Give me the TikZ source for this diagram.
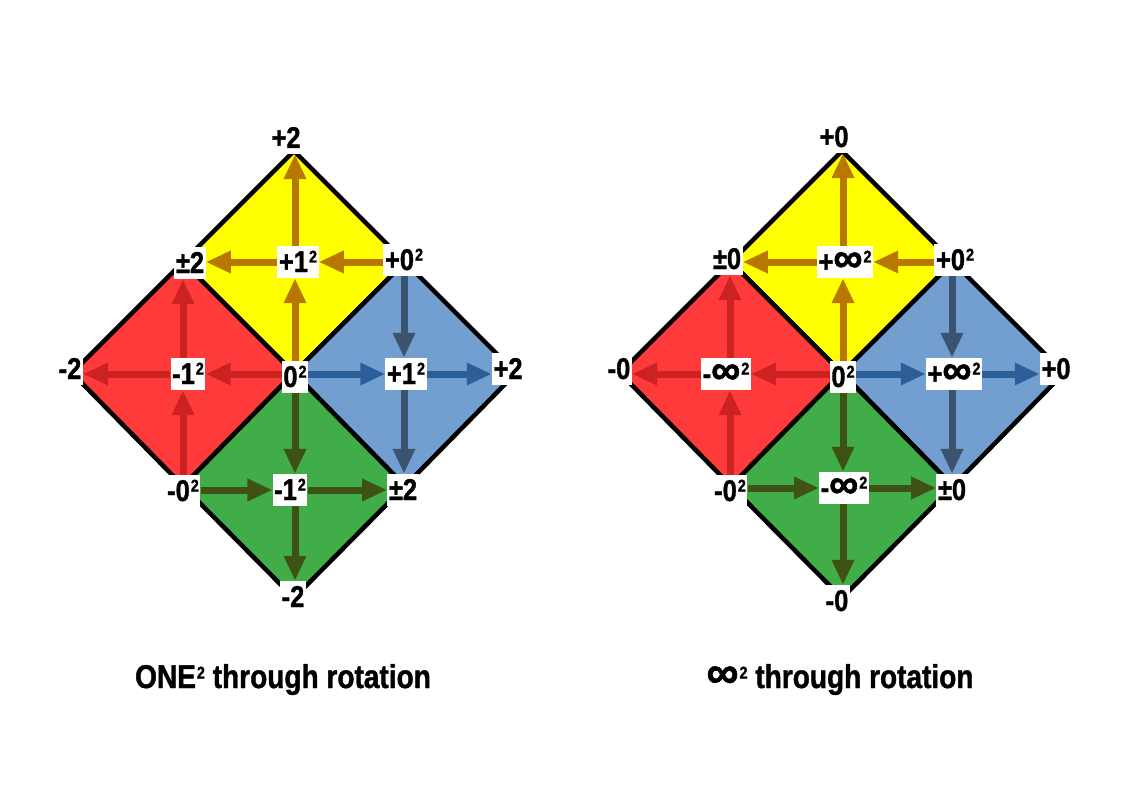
\documentclass[tikz,border=0pt]{standalone}
\usepackage{graphicx}
\usepackage{fontspec}
\setmainfont{Liberation Sans}[FakeStretch=0.85, BoldFeatures={FakeBold=1.2}]
\usetikzlibrary{arrows.meta}
\definecolor{fyel}{HTML}{FFFF00}
\definecolor{fred}{HTML}{FF3A3A}
\definecolor{fblu}{HTML}{729FCF}
\definecolor{fgrn}{HTML}{41AD48}
\definecolor{ayel}{HTML}{B87800}
\definecolor{ared}{HTML}{CC2222}
\definecolor{ablh}{HTML}{2B5F9A}
\definecolor{ablv}{HTML}{3A5470}
\definecolor{agrn}{HTML}{3D5214}
\newcommand\sqr{\kern1pt\raisebox{9.5pt}{\fontsize{17}{17}\selectfont 2}}
\newcommand\myinf{\scalebox{1.6}[1.4]{∞}}
\tikzset{
  quad/.style={draw=black, line width=4.5pt, line join=round},
  lbl/.style={fill=white, inner xsep=1.5pt, inner ysep=4pt, text height=22pt, text depth=2pt,
    font=\bfseries\fontsize{30}{30}\selectfont},
  captext/.style={anchor=base, font=\bfseries\fontsize{33}{33}\selectfont},
  arr/.style={line width=7pt, -{Triangle[length=25pt,width=21pt]}},
  ya/.style={arr, draw=ayel},
  rda/.style={arr, draw=ared},
  bha/.style={arr, draw=ablh},
  bva/.style={arr, draw=ablv},
  ga/.style={arr, draw=agrn}
}
\begin{document}
\begin{tikzpicture}[x=1pt, y=-1pt]
\useasboundingbox (0,0) rectangle (1123,794);
\fill[white] (0,0) rectangle (1123,794);

% diamonds
\foreach \ox in {0,548}{
\begin{scope}[xshift=\ox pt]
  \filldraw[quad, fill=fyel] (294,151) -- (405,262) -- (294,373) -- (183,262) -- cycle;
  \filldraw[quad, fill=fred] (183,262) -- (294,373) -- (183,486) -- (72,373) -- cycle;
  \filldraw[quad, fill=fblu] (405,262) -- (516,373) -- (405,486) -- (294,373) -- cycle;
  \filldraw[quad, fill=fgrn] (294,373) -- (405,486) -- (294,598) -- (183,486) -- cycle;
\end{scope}
}

% ---------- left figure labels ----------
\node[lbl] (At)  at (286,138) {+2};
\node[lbl] (Atl) at (190,263) {±2};
\node[lbl] (Ayc) at (298,262) {+1\sqr};
\node[lbl] (Atr) at (404,260) {+0\sqr};
\node[lbl] (Al)  at (70,369)  {-2};
\node[lbl] (Arc) at (188,374) {-1\sqr};
\node[lbl] (Ac)  at (295,377) {0\sqr};
\node[lbl] (Abc) at (406,374) {+1\sqr};
\node[lbl] (Ar)  at (508,369) {+2};
\node[lbl] (Abl) at (183,491) {-0\sqr};
\node[lbl] (Agc) at (290,490) {-1\sqr};
\node[lbl] (Abr) at (403,490) {±2};
\node[lbl] (Ab)  at (293,597) {-2};

% left arrows: yellow
\draw[ya] (Ac.north) -- (Ac.north |- Ayc.south);
\draw[ya] (Ayc.north -| Ac) -- (Ac |- At.south);
\draw[ya] (Atr.west |- Ayc) -- (Ayc.east);
\draw[ya] (Ayc.west) -- (Ayc.west -| Atl.east);
% red
\draw[rda] (Ac.west |- Arc) -- (Arc.east);
\draw[rda] (Arc.west) -- (Arc.west -| Al.east);
\draw[rda] (Abl.north) -- (Abl.north |- Arc.south);
\draw[rda] (Arc.north -| Abl) -- (Abl |- Atl.south);
% blue
\draw[bha] (Ac.east |- Abc) -- (Abc.west);
\draw[bha] (Abc.east) -- (Abc.east -| Ar.west);
\draw[bva] (Atr.south) -- (Atr.south |- Abc.north);
\draw[bva] (Abc.south -| Atr) -- (Atr |- Abr.north);
% green
\draw[ga] (Ac.south) -- (Ac.south |- Agc.north);
\draw[ga] (Agc.south -| Ac) -- (Ac |- Ab.north);
\draw[ga] (Abl.east |- Agc) -- (Agc.west);
\draw[ga] (Agc.east) -- (Agc.east -| Abr.west);

% ---------- right figure labels ----------
\node[lbl] (Bt)  at (834,137) {+0};
\node[lbl] (Btl) at (727,259) {±0};
\node[lbl] (Byc) at (845,262) {+\myinf\sqr};
\node[lbl] (Btr) at (955,260) {+0\sqr};
\node[lbl] (Bl)  at (619,369) {-0};
\node[lbl] (Brc) at (726,374) {-\myinf\sqr};
\node[lbl] (Bc)  at (843,377) {0\sqr};
\node[lbl] (Bbc) at (954,374) {+\myinf\sqr};
\node[lbl] (Br)  at (1056,369) {+0};
\node[lbl] (Bbl) at (730,491) {-0\sqr};
\node[lbl] (Bgc) at (844,488) {-\myinf\sqr};
\node[lbl] (Bbr) at (952,490) {±0};
\node[lbl] (Bb)  at (837,601) {-0};

% right arrows: yellow
\draw[ya] (Bc.north) -- (Bc.north |- Byc.south);
\draw[ya] (Byc.north -| Bc) -- (Bc |- Bt.south);
\draw[ya] (Btr.west |- Byc) -- (Byc.east);
\draw[ya] (Byc.west) -- (Byc.west -| Btl.east);
% red
\draw[rda] (Bc.west |- Brc) -- (Brc.east);
\draw[rda] (Brc.west) -- (Brc.west -| Bl.east);
\draw[rda] (Bbl.north) -- (Bbl.north |- Brc.south);
\draw[rda] (Brc.north -| Bbl) -- (Bbl |- Btl.south);
% blue
\draw[bha] (Bc.east |- Bbc) -- (Bbc.west);
\draw[bha] (Bbc.east) -- (Bbc.east -| Br.west);
\draw[bva] (Btr.south -| Bbr) -- (Bbr |- Bbc.north);
\draw[bva] (Bbc.south -| Bbr) -- (Bbr.north);
% green
\draw[ga] (Bc.south) -- (Bc.south |- Bgc.north);
\draw[ga] (Bgc.south -| Bc) -- (Bc |- Bb.north);
\draw[ga] (Bbl.east |- Bgc) -- (Bgc.west);
\draw[ga] (Bgc.east) -- (Bgc.east -| Bbr.west);

% captions
\node[captext] (capA) at (283,688) {ONE\sqr{} through rotation};
\node[captext] (capB) at (840,688) {\myinf\sqr{} through rotation};
\end{tikzpicture}
\end{document}
